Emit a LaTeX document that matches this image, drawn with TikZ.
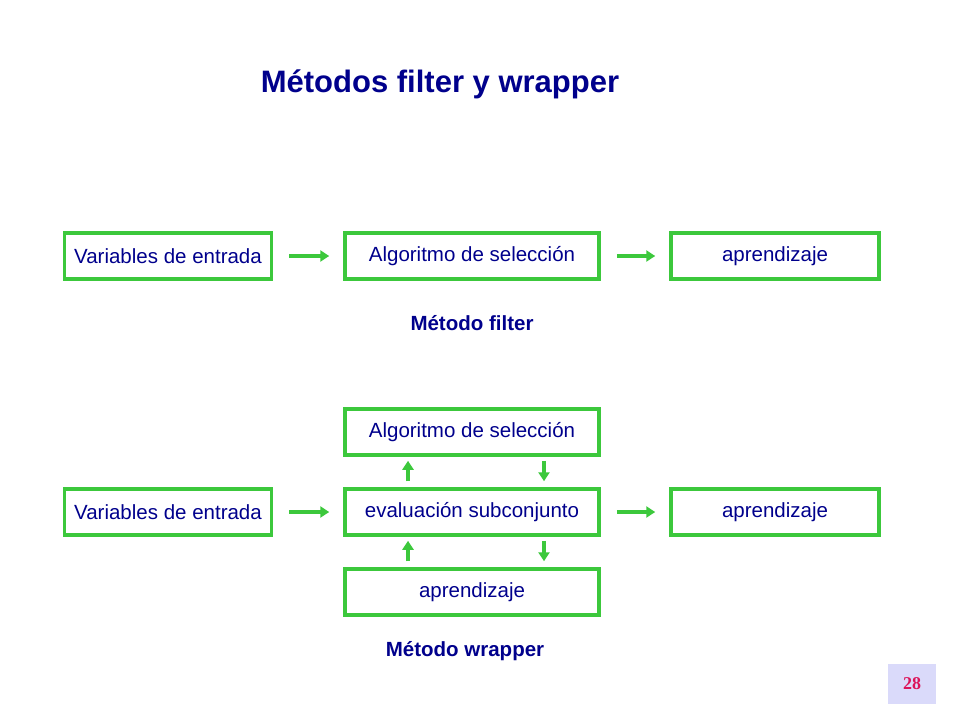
\documentclass[tikz,border=0pt]{standalone}
\usepackage{fontspec}
\setmainfont{Liberation Sans}
\newfontfamily\serifnum{Liberation Serif}
\usetikzlibrary{arrows.meta}
\definecolor{boxgreen}{RGB}{60,200,60}
\definecolor{textblue}{RGB}{0,0,140}
\definecolor{pagebg}{RGB}{218,218,250}
\definecolor{pagered}{RGB}{220,20,90}
\begin{document}
\begin{tikzpicture}[x=1pt,y=-1pt,
  blk/.style={draw=boxgreen, line width=3.5pt, minimum height=46pt, text=textblue, font=\fontsize{20.5}{24}\selectfont, inner sep=0pt},
  flow/.style={draw=boxgreen, line width=3.5pt, -{Triangle[length=9pt,width=11pt]}},
  lbl/.style={text=textblue, font=\fontsize{20.5}{24}\selectfont\bfseries}]
\useasboundingbox (0,0) rectangle (960,720);

\node[text=textblue, font=\fontsize{31}{36}\selectfont\bfseries] (title) at (440,84) {Métodos filter y wrapper};

% filter
\node[blk, minimum width=207pt] (ve1) at (168,256) {Variables de entrada};
\node[blk, minimum width=254pt] (as1) at (472,256) {Algoritmo de selección};
\node[blk, minimum width=208pt] (ap1) at (775,256) {aprendizaje};
\draw[flow] ([xshift=16pt]ve1.east) -- ([xshift=-14pt]as1.west);
\draw[flow] ([xshift=16pt]as1.east) -- ([xshift=-14pt]ap1.west);
\node[lbl] (filter) at (472,323) {Método filter};

% wrapper
\node[blk, minimum width=254pt] (as2) at (472,432) {Algoritmo de selección};
\node[blk, minimum width=207pt] (ve2) at (168,512) {Variables de entrada};
\node[blk, minimum width=254pt] (ev) at (472,512) {evaluación subconjunto};
\node[blk, minimum width=208pt] (ap2) at (775,512) {aprendizaje};
\node[blk, minimum width=254pt] (ap3) at (472,592) {aprendizaje};
\draw[flow] ([xshift=16pt]ve2.east) -- ([xshift=-14pt]ev.west);
\draw[flow] ([xshift=16pt]ev.east) -- ([xshift=-14pt]ap2.west);
\draw[flow] ([xshift=-64pt,yshift=6pt]ev.north) -- ([xshift=-64pt,yshift=-4pt]as2.south);
\draw[flow] ([xshift=72pt,yshift=-4pt]as2.south) -- ([xshift=72pt,yshift=6pt]ev.north);
\draw[flow] ([xshift=-64pt,yshift=6pt]ap3.north) -- ([xshift=-64pt,yshift=-4pt]ev.south);
\draw[flow] ([xshift=72pt,yshift=-4pt]ev.south) -- ([xshift=72pt,yshift=6pt]ap3.north);
\node[lbl] (wrapper) at (465,651) {Método wrapper};

\node[fill=pagebg, minimum width=48pt, minimum height=40pt, text=pagered, font=\serifnum\fontsize{18}{20}\selectfont\bfseries] (page) at (912,684) {28};
\end{tikzpicture}
\end{document}
